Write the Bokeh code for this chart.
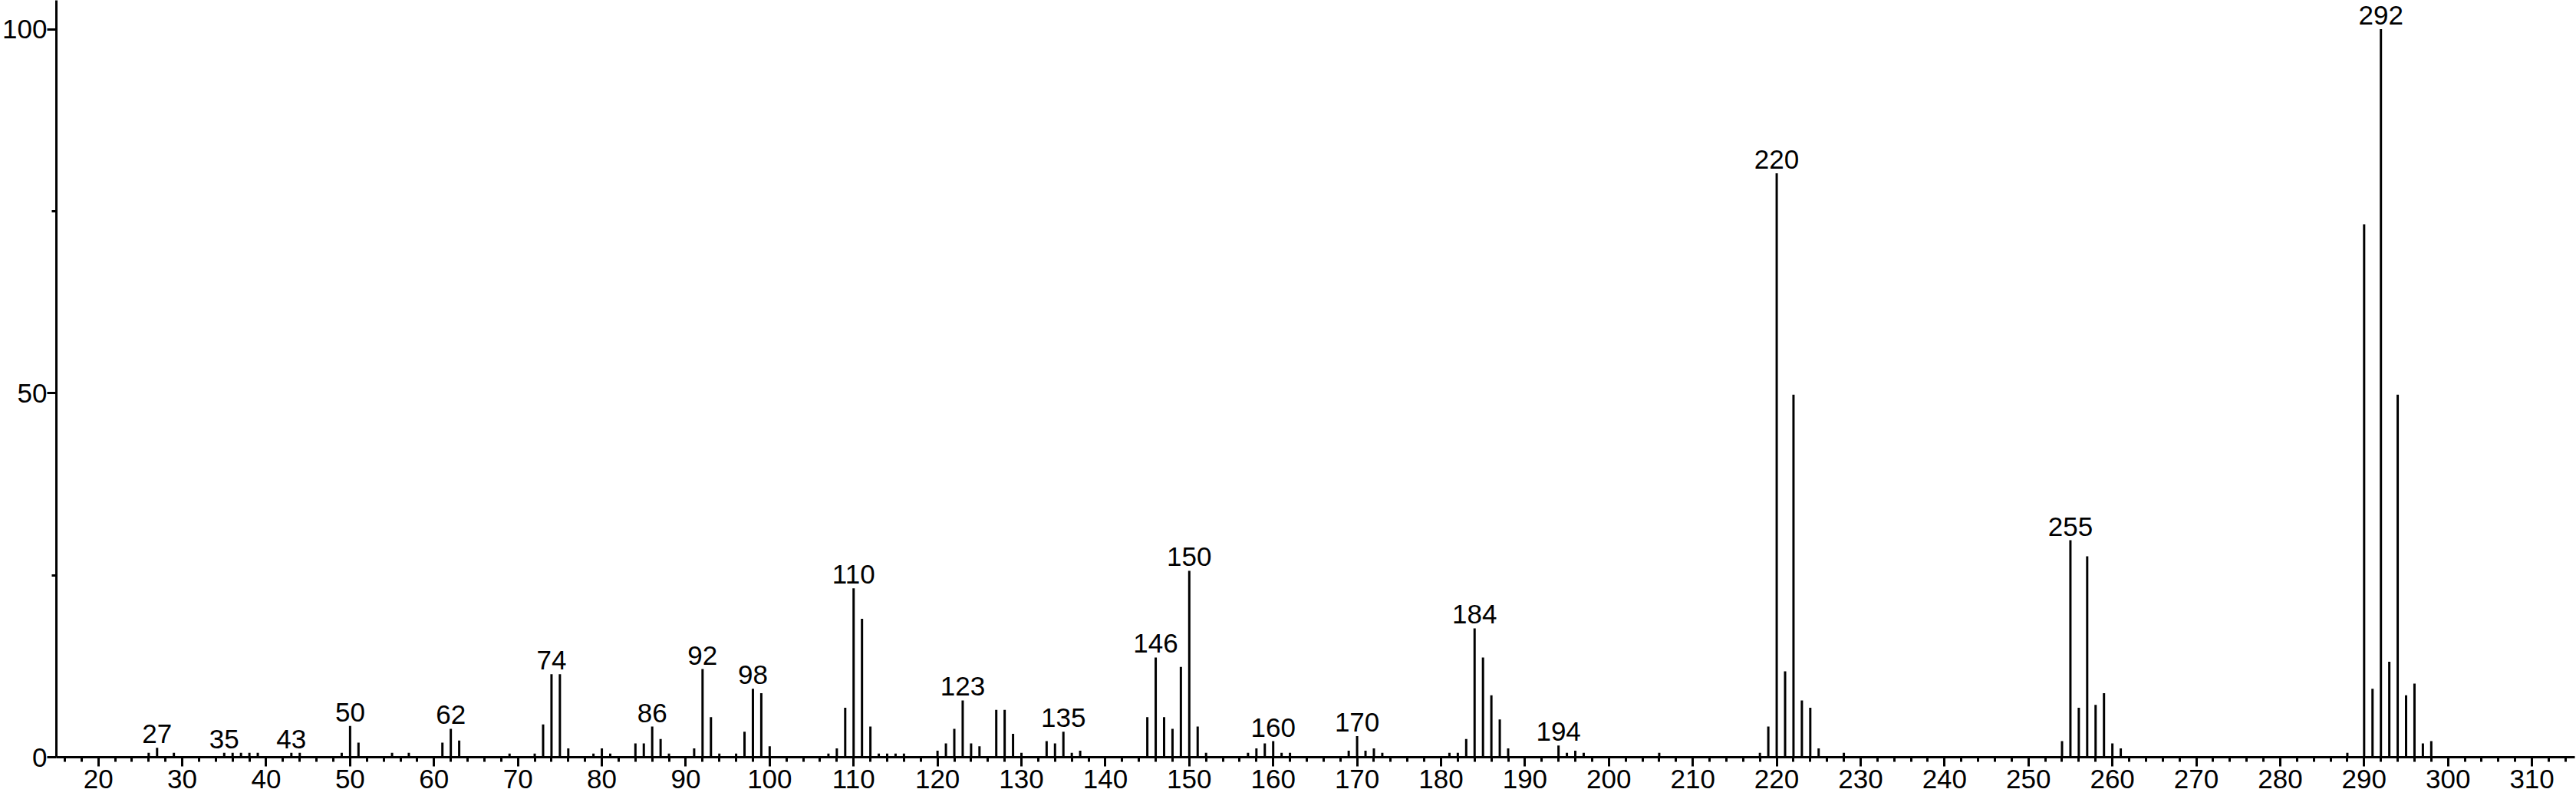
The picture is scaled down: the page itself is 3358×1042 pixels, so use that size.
from bokeh.plotting import figure
from bokeh.models import Range1d, SingleIntervalTicker, FixedTicker, ColumnDataSource
from bokeh.core.properties import value
from bokeh.embed import file_html
from bokeh.resources import INLINE

# m/z values and relative intensities
mz = [26, 27, 29, 35, 36, 37, 38, 39, 43, 44, 49, 50, 51, 55, 57, 61, 62, 63,
      69, 72, 73, 74, 75, 76, 79, 80, 81, 84, 85, 86, 87, 88, 91, 92, 93, 94,
      96, 97, 98, 99, 100, 107, 108, 109, 110, 111, 112, 113, 114, 115, 116,
      120, 121, 122, 123, 124, 125, 127, 128, 129, 130, 133, 134, 135, 136, 137,
      145, 146, 147, 148, 149, 150, 151, 152, 157, 158, 159, 160, 161, 162,
      169, 170, 171, 172, 173, 181, 182, 183, 184, 185, 186, 187, 188,
      194, 195, 196, 197, 206, 218, 219, 220, 221, 222, 223, 224, 225, 228,
      254, 255, 256, 257, 258, 259, 260, 261,
      288, 290, 291, 292, 293, 294, 295, 296, 297, 298]
intensity = [0.6, 1.3, 0.6, 0.6, 0.6, 0.6, 0.6, 0.6, 0.6, 0.6, 0.6, 4.3, 2.0, 0.6, 0.6, 2.0, 3.9, 2.3,
             0.5, 0.5, 4.5, 11.4, 11.4, 1.2, 0.5, 1.2, 0.5, 1.9, 1.9, 4.2, 2.5, 0.5, 1.2, 12.1, 5.5, 0.5,
             0.5, 3.5, 9.4, 8.8, 1.5, 0.5, 1.2, 6.8, 23.2, 19.0, 4.2, 0.5, 0.5, 0.5, 0.5,
             0.9, 1.9, 3.9, 7.8, 1.9, 1.5, 6.5, 6.5, 3.2, 0.6, 2.2, 1.9, 3.5, 0.6, 0.9,
             5.5, 13.7, 5.5, 3.9, 12.4, 25.6, 4.2, 0.6, 0.6, 1.2, 1.9, 2.2, 0.6, 0.6,
             0.9, 2.9, 0.9, 1.2, 0.6, 0.6, 0.6, 2.5, 17.7, 13.7, 8.5, 5.2, 1.2,
             1.6, 0.6, 0.9, 0.6, 0.6, 0.6, 4.2, 80.2, 11.8, 49.8, 7.8, 6.8, 1.2, 0.6,
             2.2, 29.8, 6.8, 27.6, 7.2, 8.8, 1.9, 1.2,
             0.6, 73.2, 9.4, 100.0, 13.1, 49.8, 8.5, 10.1, 1.9, 2.2]

label_mz = [27, 35, 43, 50, 62, 74, 86, 92, 98, 110, 123, 135, 146, 150,
            160, 170, 184, 194, 220, 255, 292]

x_ticks_interval = 10
y_ticks = [0, 50, 100]
y_minor_ticks = [25, 75]

lookup = dict(zip(mz, intensity))
peaks = ColumnDataSource(dict(x=mz, y0=[0] * len(mz), y1=intensity))
labels = ColumnDataSource(dict(x=label_mz, y=[lookup[m] for m in label_mz],
                               t=[str(m) for m in label_mz]))

FONT = "Liberation Sans"

p = figure(width=3358, height=1042, output_backend="svg", toolbar_location=None,
           x_range=Range1d(15.0, 315.11), y_range=Range1d(0, 103.95),
           min_border_left=71, min_border_right=2, min_border_top=0, min_border_bottom=55)
p.outline_line_color = None
p.xgrid.visible = False
p.ygrid.visible = False
p.background_fill_color = "white"
p.border_fill_color = "white"

p.segment(x0="x", y0="y0", x1="x", y1="y1", source=peaks, line_color="black", line_width=3)
p.text(x="x", y="y", text="t", source=labels, text_align="center", text_baseline="bottom",
       y_offset=-6, text_font=value(FONT), text_font_size="35px", text_color="black")

for ax in (p.xaxis[0], p.yaxis[0]):
    ax.axis_line_width = 3
    ax.axis_line_color = "black"
    ax.major_tick_line_width = 3
    ax.minor_tick_line_width = 3
    ax.major_tick_out = 12
    ax.major_tick_in = 0
    ax.minor_tick_out = 6
    ax.minor_tick_in = 0
    ax.major_label_text_font = FONT
    ax.major_label_text_font_size = "35px"
    ax.major_label_text_color = "black"

p.xaxis[0].ticker = SingleIntervalTicker(interval=x_ticks_interval, num_minor_ticks=5)
p.yaxis[0].ticker = FixedTicker(ticks=y_ticks, minor_ticks=y_minor_ticks)
p.xaxis[0].major_label_standoff = 4
p.yaxis[0].major_label_standoff = 0

open("out.html", "w").write(file_html(p, INLINE))
